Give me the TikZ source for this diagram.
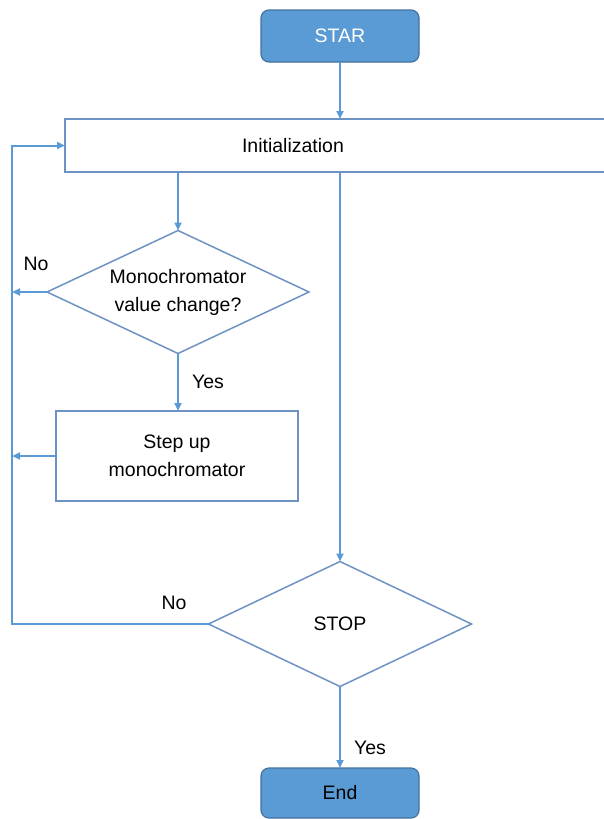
\documentclass[tikz,border=0pt]{standalone}
\usepackage{fontspec}
\setmainfont{Liberation Sans}
\usetikzlibrary{shapes.geometric, arrows.meta}
\definecolor{flowblue}{RGB}{91,155,213}
\definecolor{flowedge}{RGB}{65,113,156}
\definecolor{boxedge}{RGB}{110,146,196}
\begin{document}
\begin{tikzpicture}
        [
            x=1pt, y=-1pt,
            every node/.style={font=\fontsize{19.5}{28}\selectfont, outer sep=0pt},
            terminal/.style={rectangle, rounded corners=8pt, draw=flowedge, fill=flowblue, line width=1.2pt, minimum width=158pt},
            process/.style={rectangle, draw=boxedge, line width=1.5pt, align=center},
            decision/.style={diamond, draw=boxedge, line width=1.5pt, aspect=2.13, inner sep=0pt, align=center},
            flow/.style={draw=flowblue, line width=2pt, -{Triangle[length=8pt, width=7pt]}},
        ]
            \useasboundingbox (0,0) rectangle (604,819);

            \node[terminal, minimum height=52pt, text=white] (star) at (340, 36) {STAR};
            \node[process, minimum width=547pt, minimum height=53pt] (init) at (338.5, 145.5) {};
            \node (initText) at (293, 146) {Initialization};
            \node[decision, minimum width=262pt, minimum height=123pt] (change) at (178, 292) {Monochromator\\value change?};
            \node[process, minimum width=242pt, minimum height=90pt] (stepup) at (177, 456) {Step up\\monochromator};
            \node[decision, minimum width=263pt, minimum height=125pt] (stop) at (340, 624) {STOP};
            \node[terminal, minimum height=50pt] (end) at (340, 793) {End};

            \coordinate (loop) at (12, 624);

            \node (noChange) at (36, 264) {No};
            \node (yesChange) at (208, 382) {Yes};
            \node (noStop) at (174, 603) {No};
            \node (yesStop) at (370, 748) {Yes};

            \draw[flow] (star.south) -- (star.south |- init.north);
            \draw[flow] (change.north |- init.south) -- (change.north);
            \draw[flow] (stop.north |- init.south) -- (stop.north);
            \draw[flow] (change.west) -- (change.west -| loop);
            \draw[flow] (change.south) -- (stepup.north -| change.south);
            \draw[flow] (stepup.west) -- (stepup.west -| loop);
            \draw[flow] (stop.west) -- (loop) |- (init.west);
            \draw[flow] (stop.south) -- (end.north);
        \end{tikzpicture}
\end{document}
